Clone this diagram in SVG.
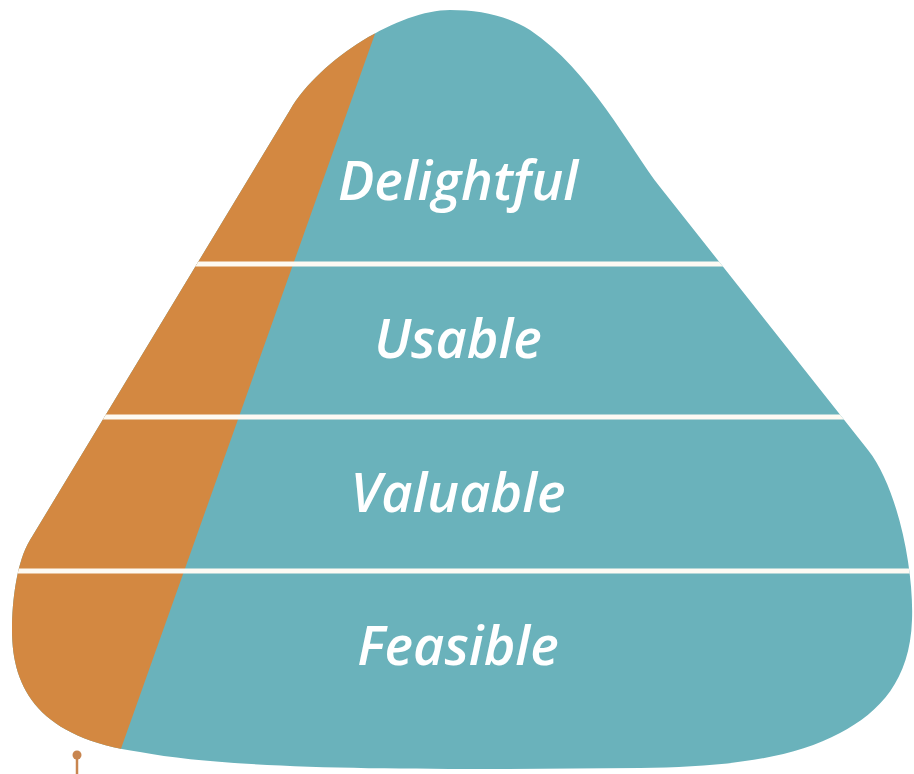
<svg xmlns="http://www.w3.org/2000/svg" width="914" height="774" viewBox="0 0 914 774">
  <defs>
    <clipPath id="blobClip">
      <path id="blobPath" d="M 450 10 C 400 10 321 58 290 110 L 30 540 C 17 561 12 600 12 630 C 12 690 40 738 140 752 C 220 767 350 769 500 769 L 640 768 C 720 767 790 760 840 733 C 880 712 910 680 912 620 C 914 570 898 488 868 450 L 660 187 C 630 149 590 70 530 30 C 505 15 480 10 450 10 Z"/>
    </clipPath>
    <style>
      .lbl { font-family: "Open Sans", "Noto Sans", "Liberation Sans", sans-serif; font-weight: 600; font-style: italic; font-size: 54px; fill: #ffffff; text-anchor: middle; }
      .sep { stroke: #fdfaf3; stroke-width: 5; }
    </style>
  </defs>
  <rect width="914" height="774" fill="#ffffff"/>
  <g id="shape" clip-path="url(#blobClip)">
    <rect x="0" y="0" width="914" height="774" fill="#6ab2bb"/>
    <polygon points="0,0 387,0 112,774 0,774" fill="#d38841"/>
    <g id="separators">
      <line class="sep" x1="0" y1="264" x2="914" y2="264"/>
      <line class="sep" x1="0" y1="417" x2="914" y2="417"/>
      <line class="sep" x1="0" y1="571" x2="914" y2="571"/>
    </g>
  </g>
  <g id="delightful"><text class="lbl" x="458" y="200">Delightful</text></g>
  <g id="usable"><text class="lbl" x="458" y="358">Usable</text></g>
  <g id="valuable"><text class="lbl" x="458" y="512">Valuable</text></g>
  <g id="feasible"><text class="lbl" x="458" y="665">Feasible</text></g>
  <g id="pin">
    <line x1="77" y1="755" x2="77" y2="774" stroke="#c8854f" stroke-width="2.5"/>
    <circle cx="77" cy="755" r="4.5" fill="#c8854f"/>
  </g>
</svg>
